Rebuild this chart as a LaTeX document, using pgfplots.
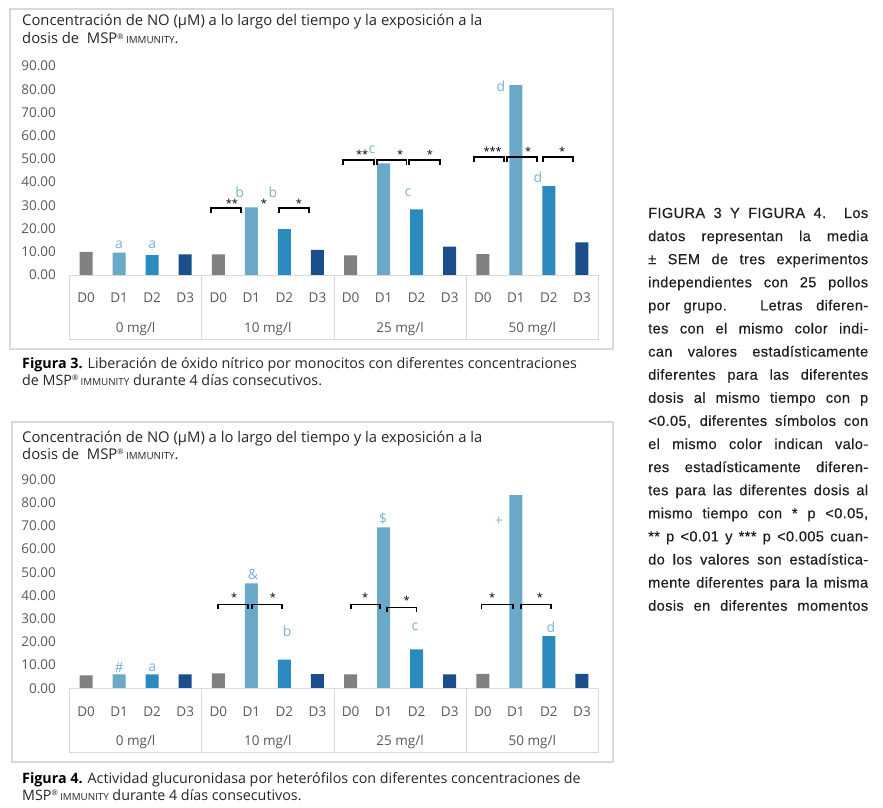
\documentclass[border=0pt]{standalone}
\usepackage{pgfplots}
\pgfplotsset{compat=1.18}
\usepackage{fontspec}
\setmainfont{Open Sans}
\newfontfamily\notefont[LetterSpace=2.5,FakeBold=0.4]{Liberation Sans}
\definecolor{cD0}{HTML}{808080}
\definecolor{cD1}{HTML}{6AA9C7}
\definecolor{cD2}{HTML}{2B8BBF}
\definecolor{cD3}{HTML}{1A4F8C}
\definecolor{letc}{HTML}{7DB2CF}
\definecolor{frm}{HTML}{D9D9D9}
\definecolor{tickc}{HTML}{595959}
\definecolor{txtc}{HTML}{262626}
\newcommand{\tf}{\fontsize{13.5}{16}\selectfont}
\newcommand{\ttf}{\fontsize{14.8}{17}\selectfont}
\newcommand{\cf}{\fontsize{14.3}{17}\selectfont}
\newcommand{\brk}[4]{\draw[line width=1.4pt] (axis cs:#1,#4) -- (axis cs:#1,#3) -- (axis cs:#2,#3) -- (axis cs:#2,#4);}
\newcommand{\lt}[3]{\node[text=letc, font=\fontsize{14}{14}\selectfont, inner sep=0pt] at (axis cs:#1,#2) {#3};}
\newcommand{\st}[3]{\node[text=black, font=\fontsize{11}{11}\selectfont, inner sep=0pt] at (axis cs:#1,#2) {#3};}
\newcommand{\msp}{MSP\raisebox{0.55ex}{\fontsize{7.5}{8}\selectfont®}\,{\fontsize{9.8}{10}\selectfont IMMUNITY}}
\pgfplotsset{
 mybars/.style={
  scale only axis, width=529pt, height=209pt, anchor=south west,
  xmin=-0.5, xmax=15.5, ymin=0, ymax=90,
  axis line style={draw=none},
  ytick={0,10,...,90},
  xtick={0,...,15},
  xticklabels={D0,D1,D2,D3,D0,D1,D2,D3,D0,D1,D2,D3,D0,D1,D2,D3},
  major tick length=0pt,
  tick label style={font=\tf, text=tickc},
  yticklabel style={anchor=east, inner sep=0pt, xshift=-13.5pt,
    /pgf/number format/fixed, /pgf/number format/fixed zerofill,
    /pgf/number format/precision=2, /pgf/number format/assume math mode=true},
  xticklabel style={anchor=center, inner sep=0pt, yshift=-23pt},
  clip=false,
  ybar, bar width=13pt,
 }
}
\begin{document}
\begin{tikzpicture}[x=1pt,y=1pt]
\path[use as bounding box] (0pt,0pt) rectangle (883pt,-808pt);
% ---------- Figure 3 ----------
\draw[frm, line width=1.2pt] (10pt,-9pt) rectangle (613pt,-349pt);
\node[anchor=base west, font=\ttf, text=txtc, inner sep=0pt] at (22pt,-26pt) {Concentración de NO (µM) a lo largo del tiempo y la exposición a la};
\node[anchor=base west, font=\ttf, text=txtc, inner sep=0pt] at (22pt,-44pt) {dosis de \ \msp.};
\begin{axis}[mybars, at={(69.5pt,-275pt)}]
\addplot[fill=cD0, draw=none, bar shift=0pt] coordinates {(0,10.0) (4,8.9) (8,8.5) (12,9.0)};
\addplot[fill=cD1, draw=none, bar shift=0pt] coordinates {(1,9.6) (5,29.1) (9,48.1) (13,81.8)};
\addplot[fill=cD2, draw=none, bar shift=0pt] coordinates {(2,8.6) (6,19.8) (10,28.3) (14,38.3)};
\addplot[fill=cD3, draw=none, bar shift=0pt] coordinates {(3,8.9) (7,10.8) (11,12.2) (15,14.1)};
\draw[frm, line width=1pt] (axis cs:-0.5,0) -- (axis cs:15.5,0);
\draw[frm, line width=1pt] (axis cs:-0.5,0) -- (axis cs:-0.5,-27.56) -- (axis cs:15.5,-27.56) -- (axis cs:15.5,0);
\draw[frm, line width=1pt] (axis cs:3.5,0) -- (axis cs:3.5,-27.56);
\draw[frm, line width=1pt] (axis cs:7.5,0) -- (axis cs:7.5,-27.56);
\draw[frm, line width=1pt] (axis cs:11.5,0) -- (axis cs:11.5,-27.56);
\node[font=\tf, text=tickc] at (axis cs:1.5,-23.3) {0 mg/l};
\node[font=\tf, text=tickc] at (axis cs:5.5,-23.3) {10 mg/l};
\node[font=\tf, text=tickc] at (axis cs:9.5,-23.3) {25 mg/l};
\node[font=\tf, text=tickc] at (axis cs:13.5,-23.3) {50 mg/l};
\lt{1}{12.9}{a}
\lt{2}{12.9}{a}
\lt{4.65}{35.6}{b}
\lt{5.65}{35.6}{b}
\lt{8.65}{53.8}{c}
\lt{9.74}{35.3}{c}
\lt{12.55}{81.4}{d}
\lt{13.67}{42.2}{d}
\st{4.41}{30.8}{**}
\st{5.38}{30.8}{*}
\st{6.44}{30.8}{*}
\st{8.35}{52.1}{**}
\st{9.5}{52.1}{*}
\st{10.4}{52.1}{*}
\st{12.3}{53.4}{***}
\st{13.37}{53.4}{*}
\st{14.4}{53.4}{*}
\brk{3.78}{4.69}{28.9}{26.7}
\brk{5.84}{6.74}{28.9}{26.7}
\brk{7.77}{8.71}{49.5}{47.3}
\brk{8.8}{9.7}{49.5}{47.3}
\brk{9.77}{10.7}{49.5}{47.3}
\brk{11.73}{12.64}{50.8}{48.6}
\brk{12.73}{13.64}{50.8}{48.6}
\brk{13.82}{14.73}{50.8}{48.6}
\end{axis}
\node[anchor=base west, font=\cf, text=txtc, inner sep=0pt] at (22pt,-368pt) {{\bfseries\color{black}Figura 3.} Liberación de óxido nítrico por monocitos con diferentes concentraciones};
\node[anchor=base west, font=\cf, text=txtc, inner sep=0pt] at (22pt,-385pt) {de \msp\ durante 4 días consecutivos.};
% ---------- Figure 4 ----------
\draw[frm, line width=1.2pt] (12pt,-422pt) rectangle (613pt,-762pt);
\node[anchor=base west, font=\ttf, text=txtc, inner sep=0pt] at (22pt,-442pt) {Concentración de NO (µM) a lo largo del tiempo y la exposición a la};
\node[anchor=base west, font=\ttf, text=txtc, inner sep=0pt] at (22pt,-459pt) {dosis de \ \msp.};
\begin{axis}[mybars, at={(69.5pt,-688.3pt)}]
\addplot[fill=cD0, draw=none, bar shift=0pt] coordinates {(0,5.6) (4,6.4) (8,6.0) (12,6.2)};
\addplot[fill=cD1, draw=none, bar shift=0pt] coordinates {(1,6.0) (5,45.2) (9,69.3) (13,83.2)};
\addplot[fill=cD2, draw=none, bar shift=0pt] coordinates {(2,6.0) (6,12.4) (10,16.8) (14,22.5)};
\addplot[fill=cD3, draw=none, bar shift=0pt] coordinates {(3,6.0) (7,6.1) (11,6.0) (15,6.2)};
\draw[frm, line width=1pt] (axis cs:-0.5,0) -- (axis cs:15.5,0);
\draw[frm, line width=1pt] (axis cs:-0.5,0) -- (axis cs:-0.5,-27.56) -- (axis cs:15.5,-27.56) -- (axis cs:15.5,0);
\draw[frm, line width=1pt] (axis cs:3.5,0) -- (axis cs:3.5,-27.56);
\draw[frm, line width=1pt] (axis cs:7.5,0) -- (axis cs:7.5,-27.56);
\draw[frm, line width=1pt] (axis cs:11.5,0) -- (axis cs:11.5,-27.56);
\node[font=\tf, text=tickc] at (axis cs:1.5,-23.3) {0 mg/l};
\node[font=\tf, text=tickc] at (axis cs:5.5,-23.3) {10 mg/l};
\node[font=\tf, text=tickc] at (axis cs:9.5,-23.3) {25 mg/l};
\node[font=\tf, text=tickc] at (axis cs:13.5,-23.3) {50 mg/l};
\lt{1}{9.0}{\#}
\lt{2}{9.0}{a}
\lt{5.05}{49.1}{\&}
\lt{6.08}{24.5}{b}
\lt{8.98}{73.2}{\$}
\lt{9.95}{26.3}{c}
\lt{12.49}{71.9}{+}
\lt{14.06}{26.3}{d}
\st{4.48}{39.2}{*}
\st{5.65}{39.2}{*}
\st{8.44}{39.2}{*}
\st{9.7}{37.9}{*}
\st{12.28}{39.2}{*}
\st{13.73}{39.2}{*}
\brk{3.99}{4.9}{36.2}{34.0}
\brk{5.02}{5.93}{36.2}{34.0}
\brk{8.01}{8.89}{36.2}{34.0}
\brk{9.1}{10.0}{34.9}{32.7}
\brk{11.97}{12.91}{36.2}{34.0}
\brk{13.15}{14.06}{36.2}{34.0}
\end{axis}
\node[anchor=base west, font=\cf, text=txtc, inner sep=0pt] at (22pt,-783pt) {{\bfseries\color{black}Figura 4.} Actividad glucuronidasa por heterófilos con diferentes concentraciones de};
\node[anchor=base west, font=\cf, text=txtc, inner sep=0pt] at (22pt,-800pt) {\msp\ durante 4 días consecutivos.};
% ---------- Side note ----------
\begin{scope}[every node/.style={anchor=base west, inner sep=0pt, text=black!88, font=\notefont\fontsize{14.6}{17}\selectfont}]
\node at (648pt,-218.0pt) {\makebox[220pt][s]{FIGURA 3 Y FIGURA 4. Los}};
\node at (648pt,-241.1pt) {\makebox[220pt][s]{datos representan la media}};
\node at (648pt,-264.2pt) {\makebox[220pt][s]{± SEM de tres experimentos}};
\node at (648pt,-287.3pt) {\makebox[220pt][s]{independientes con 25 pollos}};
\node at (648pt,-310.4pt) {\makebox[220pt][s]{por grupo. Letras diferen-}};
\node at (648pt,-333.5pt) {\makebox[220pt][s]{tes con el mismo color indi-}};
\node at (648pt,-356.6pt) {\makebox[220pt][s]{can valores estadísticamente}};
\node at (648pt,-379.7pt) {\makebox[220pt][s]{diferentes para las diferentes}};
\node at (648pt,-402.8pt) {\makebox[220pt][s]{dosis al mismo tiempo con p}};
\node at (648pt,-425.9pt) {\makebox[220pt][s]{<0.05, diferentes símbolos con}};
\node at (648pt,-449.0pt) {\makebox[220pt][s]{el mismo color indican valo-}};
\node at (648pt,-472.1pt) {\makebox[220pt][s]{res estadísticamente diferen-}};
\node at (648pt,-495.2pt) {\makebox[220pt][s]{tes para las diferentes dosis al}};
\node at (648pt,-518.3pt) {\makebox[220pt][s]{mismo tiempo con * p <0.05,}};
\node at (648pt,-541.4pt) {\makebox[220pt][s]{** p <0.01 y *** p <0.005 cuan-}};
\node at (648pt,-564.5pt) {\makebox[220pt][s]{do los valores son estadística-}};
\node at (648pt,-587.6pt) {\makebox[220pt][s]{mente diferentes para la misma}};
\node at (648pt,-610.7pt) {\makebox[220pt][s]{dosis en diferentes momentos}};
\end{scope}
\end{tikzpicture}
\end{document}
